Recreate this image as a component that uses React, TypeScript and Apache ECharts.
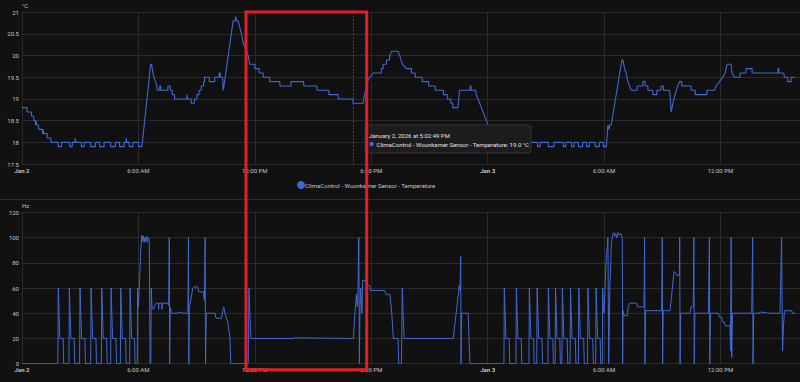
import React, { useEffect, useRef } from 'react';
import * as echarts from 'echarts';

// ---- Data (x = hours since Jan 2, 00:00) ----
const X_TICK_HOURS = [0, 6, 12, 18, 24, 30, 36];
const X_TICK_LABELS = ['Jan 2', '6:00 AM', '12:00 PM', '6:00 PM', 'Jan 3', '6:00 AM', '12:00 PM'];
const X_MAX_HOURS = 40.1;

const TEMP_NAME = 'ClimaControl - Woonkamer Sensor - Temperature';
const HZ_NAME = 'ClimaControl - Compressor Frequency';

const TOOLTIP_TIME = 'January 2, 2026 at 5:02:49 PM';
const TOOLTIP_VALUE = '19.0 °C';
const POINTER_HOUR = 17.05;

const temperature: [number, number][] = [
  [0, 18.8], [0.26, 18.8], [0.26, 18.7], [0.48, 18.7], [0.5, 18.6], [0.6, 18.6], [0.62, 18.5], [0.7, 18.5], [0.7, 18.4], [0.73, 18.5], [0.75, 18.4], [0.84, 18.4], [0.86, 18.3], [1.06, 18.3], [1.06, 18.2], [1.09, 18.3], [1.11, 18.2], [1.3, 18.2], [1.3, 18.1], [1.48, 18.1], [1.5, 18.0],
  [1.86, 18.0], [1.86, 17.9], [2.03, 17.9], [2.03, 18.0], [2.46, 18.0], [2.46, 17.9], [2.59, 17.9], [2.59, 18.0], [2.74, 18.0], [2.74, 18.1], [2.77, 18.1], [2.77, 18.0], [3.06, 18.0], [3.06, 17.9], [3.2, 17.9], [3.2, 18.0], [3.54, 18.0], [3.54, 17.9], [3.78, 17.9], [3.78, 18.0], [4.0, 18.0], [4.0, 17.9], [4.23, 17.9], [4.23, 18.0], [4.57, 18.0], [4.57, 17.9], [4.81, 17.9], [4.81, 18.0], [5.03, 18.0], [5.03, 17.9], [5.26, 17.9], [5.26, 18.0], [5.37, 18.0], [5.37, 18.1], [5.39, 18.1], [5.39, 18.0], [5.53, 18.0], [5.53, 17.9], [5.72, 17.9], [5.72, 18.0], [6.01, 18.0], [6.01, 17.9], [6.18, 17.9],
  [6.63, 19.8], [6.68, 19.8], [6.75, 19.6], [6.8, 19.5], [6.88, 19.4], [6.95, 19.3], [6.97, 19.2], [7.1, 19.2], [7.1, 19.3], [7.15, 19.3], [7.15, 19.2], [7.52, 19.2], [7.52, 19.3], [7.64, 19.3], [7.64, 19.2], [7.74, 19.2], [7.74, 19.1], [7.86, 19.1], [7.86, 19.0], [8.5, 19.0], [8.5, 19.1], [8.53, 19.1], [8.53, 19.0], [8.72, 19.0], [8.72, 18.9], [8.89, 18.9], [8.89, 19.0], [9.01, 19.0], [9.01, 19.1], [9.12, 19.1], [9.12, 19.2], [9.24, 19.2], [9.24, 19.3], [9.36, 19.3], [9.36, 19.4], [9.41, 19.4], [9.41, 19.5], [9.66, 19.5], [9.66, 19.4], [9.94, 19.4], [9.94, 19.5], [10.16, 19.5], [10.16, 19.6], [10.22, 19.6], [10.22, 19.5], [10.34, 19.5], [10.37, 19.2], [10.44, 19.4],
  [10.88, 20.8], [10.98, 20.8], [11.02, 20.9], [11.06, 20.8], [11.14, 20.8], [11.31, 20.5], [11.4, 20.3], [11.57, 20.1], [11.66, 20.0], [11.74, 19.8], [12.0, 19.8], [12.0, 19.7], [12.22, 19.7], [12.22, 19.6], [12.43, 19.6], [12.43, 19.5], [12.77, 19.5], [12.77, 19.4], [13.29, 19.4], [13.29, 19.3], [13.86, 19.3], [13.86, 19.4], [14.52, 19.4], [14.52, 19.3], [15.2, 19.3], [15.2, 19.2], [15.82, 19.2], [15.82, 19.1], [16.3, 19.1], [16.3, 19.0], [17.06, 19.0], [17.06, 18.9], [17.58, 18.9], [17.66, 19.1], [17.75, 19.3], [17.8, 19.4], [17.92, 19.5], [18.09, 19.6], [18.52, 19.6], [18.52, 19.7], [18.61, 19.7], [18.61, 19.8], [18.78, 19.8], [18.78, 19.9], [18.95, 19.9], [18.95, 20.0], [19.05, 20.1], [19.38, 20.1], [19.47, 20.0], [19.61, 19.8], [19.81, 19.7], [20.07, 19.7], [20.07, 19.6], [20.27, 19.6], [20.27, 19.5], [20.62, 19.5], [20.62, 19.4], [20.96, 19.4], [20.96, 19.3], [21.3, 19.3], [21.3, 19.2], [21.72, 19.2], [21.72, 19.1], [21.92, 19.1], [21.92, 19.0], [22.1, 19.0], [22.1, 18.9], [22.2, 18.9], [22.2, 18.8], [22.47, 18.8], [22.55, 19.2], [23.1, 19.2], [23.1, 19.3], [23.14, 19.3], [23.14, 19.2], [23.38, 19.2], [23.42, 19.1], [23.5, 19.0], [23.59, 18.9], [23.68, 18.8], [23.76, 18.7], [23.85, 18.6], [23.93, 18.5], [24.02, 18.4], [24.2, 18.3], [24.4, 18.2], [24.6, 18.1], [24.8, 18.0],
  [26.57, 18.0], [26.57, 17.9], [26.7, 17.9], [26.7, 18.0], [27.13, 18.0], [27.13, 17.9], [27.42, 17.9], [27.42, 18.0], [27.9, 18.0], [27.9, 17.9], [28.03, 17.9], [28.03, 18.0], [28.33, 18.0], [28.33, 17.9], [28.45, 17.9], [28.45, 18.0], [28.68, 18.0], [28.68, 17.9], [28.9, 17.9], [28.9, 18.0], [29.1, 18.0], [29.1, 17.9], [29.24, 17.9], [29.24, 18.0], [29.54, 18.0], [29.54, 17.9], [29.76, 17.9], [29.76, 18.0], [29.96, 18.0], [29.96, 17.9], [30.12, 17.9], [30.2, 18.4], [30.25, 18.3], [30.3, 18.4], [30.37, 18.4], [30.92, 19.9], [30.97, 19.9], [31.06, 19.7], [31.14, 19.6], [31.23, 19.4], [31.31, 19.3], [31.4, 19.2], [31.71, 19.2], [31.71, 19.3], [32.0, 19.3], [32.0, 19.4], [32.12, 19.4], [32.12, 19.3], [32.26, 19.3], [32.26, 19.2], [32.51, 19.2], [32.51, 19.1], [32.72, 19.1], [32.72, 19.2], [32.94, 19.2], [32.94, 19.3], [33.06, 19.3], [33.06, 19.2], [33.37, 19.2], [33.4, 19.1], [33.46, 18.7], [33.6, 19.0], [33.72, 19.2], [33.8, 19.3], [33.89, 19.4], [34.01, 19.4], [34.01, 19.3], [34.49, 19.3], [34.49, 19.2], [34.7, 19.2], [34.7, 19.1], [35.3, 19.1], [35.3, 19.2], [35.69, 19.2], [35.78, 19.3], [35.95, 19.4], [36.12, 19.5], [36.24, 19.6], [36.34, 19.8], [36.55, 19.8], [36.6, 19.6], [36.72, 19.5], [37.01, 19.5], [37.01, 19.6], [37.32, 19.6], [37.32, 19.7], [37.63, 19.7], [37.63, 19.6], [38.97, 19.6], [38.97, 19.7], [39.01, 19.7], [39.01, 19.6], [39.26, 19.6], [39.3, 19.5], [39.47, 19.5], [39.47, 19.4], [39.64, 19.4], [39.64, 19.5], [39.82, 19.5],
];

const frequency: [number, number][] = [
  [0, 0], [1.85, 0], [1.87, 60], [1.9, 45], [1.95, 20], [2.12, 20], [2.15, 0],
  [2.42, 0], [2.44, 60], [2.47, 45], [2.52, 20], [2.69, 20], [2.72, 0],
  [2.97, 0], [2.99, 60], [3.02, 45], [3.07, 20], [3.24, 20], [3.27, 0],
  [3.54, 0], [3.56, 60], [3.59, 45], [3.64, 20], [3.81, 20], [3.84, 0],
  [4.09, 0], [4.11, 60], [4.14, 45], [4.19, 20], [4.36, 20], [4.39, 0],
  [4.57, 0], [4.59, 60], [4.62, 45], [4.67, 20], [4.84, 20], [4.87, 0],
  [5.07, 0], [5.09, 60], [5.12, 45], [5.17, 20], [5.34, 20], [5.37, 0],
  [5.55, 0], [5.57, 60], [5.6, 45], [5.65, 20], [5.8, 20], [5.83, 0],
  [5.94, 0], [5.96, 60], [5.99, 45], [6.04, 58], [6.12, 90], [6.18, 102], [6.22, 97], [6.26, 101], [6.3, 96], [6.34, 100], [6.38, 97], [6.42, 101], [6.46, 96], [6.5, 100], [6.56, 98], [6.6, 0], [6.64, 0], [6.66, 60], [6.7, 45], [6.78, 43], [6.86, 47], [6.92, 48], [7.02, 48], [7.04, 43], [7.06, 48], [7.2, 48], [7.22, 43], [7.24, 48], [7.5, 48], [7.56, 46], [7.59, 100], [7.61, 0], [7.64, 45], [7.7, 40], [8.0, 40], [8.02, 41], [8.3, 40], [8.55, 40], [8.58, 100], [8.6, 0], [8.62, 45], [8.7, 50], [8.8, 60], [8.9, 61], [9.05, 61], [9.1, 57], [9.35, 57], [9.4, 50], [9.44, 100], [9.46, 0], [9.5, 40], [9.95, 40], [10.0, 36], [10.28, 36], [10.35, 42], [10.4, 45], [10.46, 40], [10.52, 37], [10.6, 33], [10.68, 25], [10.72, 20], [10.76, 0],
  [11.66, 0], [11.7, 60], [11.73, 45], [11.8, 20], [14.0, 20], [14.02, 20.5], [17.08, 20],
  [17.16, 40], [17.24, 55], [17.28, 45], [17.32, 58], [17.36, 100], [17.39, 0], [17.42, 45], [17.46, 60], [17.52, 40], [17.56, 66], [17.72, 66], [17.76, 62], [17.92, 62], [17.96, 58], [18.7, 58], [18.76, 55], [18.96, 55], [19.06, 40], [19.14, 20], [19.38, 20], [19.42, 0], [19.56, 0], [19.6, 60], [19.64, 40], [19.7, 20], [22.23, 20], [22.54, 62], [22.58, 58], [22.61, 85], [22.63, 0], [22.66, 40], [23.0, 40], [23.04, 20], [23.07, 20], [23.09, 0],
  [24.84, 0], [24.86, 60], [24.89, 45], [24.94, 20], [25.11, 20], [25.14, 0],
  [25.46, 0], [25.48, 60], [25.51, 45], [25.56, 20], [25.73, 20], [25.76, 0],
  [26.13, 0], [26.15, 60], [26.18, 45], [26.23, 20], [26.37, 20], [26.4, 0],
  [26.53, 0], [26.55, 60], [26.58, 45], [26.63, 20], [26.8, 20], [26.83, 0],
  [27.11, 0], [27.13, 60], [27.16, 45], [27.21, 20], [27.36, 20], [27.39, 0],
  [27.48, 0], [27.5, 60], [27.53, 45], [27.58, 20], [27.72, 20], [27.75, 0],
  [27.83, 0], [27.85, 60], [27.88, 45], [27.93, 20], [28.1, 20], [28.13, 0],
  [28.25, 0], [28.27, 60], [28.3, 45], [28.35, 20], [28.52, 20], [28.55, 0],
  [28.68, 0], [28.7, 60], [28.73, 45], [28.78, 20], [28.95, 20], [28.98, 0],
  [29.15, 0], [29.17, 60], [29.2, 45], [29.25, 20], [29.42, 20], [29.45, 0],
  [29.57, 0], [29.59, 60], [29.62, 45], [29.67, 20], [29.8, 20], [29.83, 0],
  [29.91, 0], [29.93, 60], [29.96, 45], [30.0, 40], [30.05, 60], [30.1, 80], [30.2, 100], [30.24, 0], [30.3, 60], [30.38, 95], [30.44, 102], [30.5, 104], [30.55, 101], [30.6, 103], [30.66, 100], [30.72, 104], [30.8, 102], [30.88, 103], [30.94, 100], [30.96, 0], [30.98, 42], [31.04, 38], [31.2, 38], [31.25, 45], [31.32, 48], [31.68, 48], [31.72, 45], [32.06, 45], [32.09, 100], [32.11, 0], [32.14, 42], [32.97, 42], [33.0, 100], [33.02, 0], [33.05, 42], [33.4, 42], [33.52, 60], [33.61, 73], [33.7, 72], [33.75, 70], [33.88, 70], [33.9, 100], [33.92, 0], [33.95, 40], [34.43, 40], [34.48, 45], [34.6, 45], [34.63, 100], [34.65, 0], [34.68, 40], [35.38, 40], [35.43, 100], [35.45, 0], [35.48, 40], [35.89, 40], [35.95, 37], [36.07, 37], [36.1, 33], [36.2, 33], [36.25, 30], [36.49, 30], [36.52, 10], [36.55, 100], [36.58, 5], [36.62, 40], [37.61, 40], [37.66, 100], [37.68, 0], [37.71, 40], [38.0, 40], [38.02, 41], [38.5, 40], [39.07, 40], [39.15, 100], [39.2, 10], [39.25, 30], [39.3, 42], [39.67, 42], [39.72, 40], [39.85, 40],
];

// ---- Styles ----
const BG = '#111111';
const GRID_COLOR = '#2a2a2a';
const LABEL_COLOR = '#c4c4c4';
const LINE_COLOR = '#4269d0';
const POINTER_COLOR = '#1c5a6c';
const FONT = 'Roboto';
const FS = 6;

function xLabel(v: number) {
  const i = X_TICK_HOURS.indexOf(Math.round(v * 1000) / 1000);
  if (i < 0) return '';
  const s = X_TICK_LABELS[i];
  return s.startsWith('Jan') ? `{b|${s}}` : s;
}

function makeXAxis(gridIndex: number) {
  return {
    type: 'value',
    gridIndex,
    min: 0,
    max: X_MAX_HOURS,
    interval: 6,
    axisLine: { show: false },
    axisTick: { show: false },
    splitLine: { show: true, lineStyle: { color: GRID_COLOR, width: 1 } },
    axisLabel: {
      formatter: xLabel,
      color: LABEL_COLOR,
      fontSize: FS,
      fontFamily: FONT,
      margin: 3,
      showMaxLabel: false,
      rich: { b: { fontWeight: 'bold', fontSize: FS, fontFamily: FONT, color: LABEL_COLOR } },
    },
  };
}

function makeYAxis(gridIndex: number, min: number, max: number, interval: number, unit: string) {
  return {
    type: 'value',
    gridIndex,
    min,
    max,
    interval,
    name: unit,
    nameLocation: 'end',
    nameGap: 4,
    nameTextStyle: { color: LABEL_COLOR, fontSize: FS, fontFamily: FONT, align: 'left', padding: [0, 0, 0, 0] },
    axisLine: { show: false },
    axisTick: { show: false },
    splitLine: { show: true, lineStyle: { color: GRID_COLOR, width: 1 } },
    axisLabel: { color: LABEL_COLOR, fontSize: FS, fontFamily: FONT, margin: 3 },
  };
}

export default function App() {
  const ref = useRef<HTMLDivElement>(null);
  useEffect(() => {
    const chart = echarts.init(ref.current!, undefined, { renderer: 'svg' });
    const baseGraphics: any[] = [
      {
        id: 'sep',
        type: 'line',
        z: 50,
        shape: { x1: 0, y1: 199.5, x2: 800, y2: 199.5 },
        style: { stroke: GRID_COLOR, lineWidth: 1 },
      },
      {
        id: 'tipBox',
        type: 'rect',
        z: 100,
        shape: { x: 365, y: 125, width: 166, height: 28, r: 3 },
        style: { fill: '#1c1c1c', stroke: '#343434', lineWidth: 1 },
      },
      {
        id: 'tipTime',
        type: 'text',
        z: 101,
        x: 369,
        y: 135,
        style: { text: TOOLTIP_TIME, fill: '#e2e2e2', fontSize: FS, fontFamily: FONT, verticalAlign: 'middle', align: 'left' },
      },
      {
        id: 'tipDot',
        type: 'circle',
        z: 101,
        shape: { cx: 371.5, cy: 144, r: 2.2 },
        style: { fill: LINE_COLOR },
      },
      {
        id: 'tipText',
        type: 'text',
        z: 101,
        x: 376.5,
        y: 144,
        style: { text: `${TEMP_NAME}: ${TOOLTIP_VALUE}`, fill: '#e2e2e2', fontSize: FS, fontFamily: FONT, verticalAlign: 'middle', align: 'left' },
      },
      {
        id: 'redBox',
        type: 'rect',
        z: 200,
        shape: { x: 246, y: 12, width: 120.7, height: 357.8 },
        style: { fill: 'rgba(0,0,0,0)', stroke: '#e31e24', lineWidth: 3 },
      },
    ];
    const option: any = {
      animation: false,
      backgroundColor: BG,
      textStyle: { fontFamily: FONT },
      grid: [
        { left: 22, right: 0, top: 12.3, height: 151.7 },
        { left: 22, right: 0, top: 212.3, height: 151.4 },
      ],
      xAxis: [makeXAxis(0), makeXAxis(1)],
      yAxis: [makeYAxis(0, 17.5, 21, 0.5, '°C'), makeYAxis(1, 0, 120, 20, 'Hz')],
      legend: {
        data: [TEMP_NAME],
        left: 292,
        top: 176,
        icon: 'circle',
        itemWidth: 8,
        itemHeight: 8,
        itemGap: 10,
        textStyle: { color: LABEL_COLOR, fontSize: FS, fontFamily: FONT, padding: [0, 0, 0, -5] },
      },
      series: [
        {
          name: TEMP_NAME,
          type: 'line',
          xAxisIndex: 0,
          yAxisIndex: 0,
          data: temperature,
          showSymbol: false,
          symbol: 'none',
          color: LINE_COLOR,
          lineStyle: { color: LINE_COLOR, width: 1.1 },
        },
        {
          name: HZ_NAME,
          type: 'line',
          xAxisIndex: 1,
          yAxisIndex: 1,
          data: frequency,
          showSymbol: false,
          symbol: 'none',
          color: LINE_COLOR,
          lineStyle: { color: LINE_COLOR, width: 1 },
        },
      ],
      graphic: baseGraphics,
    };
    chart.setOption(option);
    // axis-pointer line placed through the chart's own x scale
    const px = chart.convertToPixel({ xAxisIndex: 0 }, POINTER_HOUR) as number;
    const yTop = chart.convertToPixel({ yAxisIndex: 0 }, 21) as number;
    const yBot = chart.convertToPixel({ yAxisIndex: 0 }, 17.5) as number;
    chart.setOption({
      graphic: [
        ...baseGraphics,
        {
          id: 'pointer',
          type: 'line',
          z: 60,
          shape: { x1: Math.round(px) + 0.5, y1: yTop, x2: Math.round(px) + 0.5, y2: yBot },
          style: { stroke: POINTER_COLOR, lineWidth: 1, lineDash: [2, 1.5] },
        },
      ],
    });
    return () => chart.dispose();
  }, []);
  return (
    <div
      ref={ref}
      style={{ position: 'fixed', left: 0, top: 0, width: 800, height: 382, background: BG }}
    />
  );
}
